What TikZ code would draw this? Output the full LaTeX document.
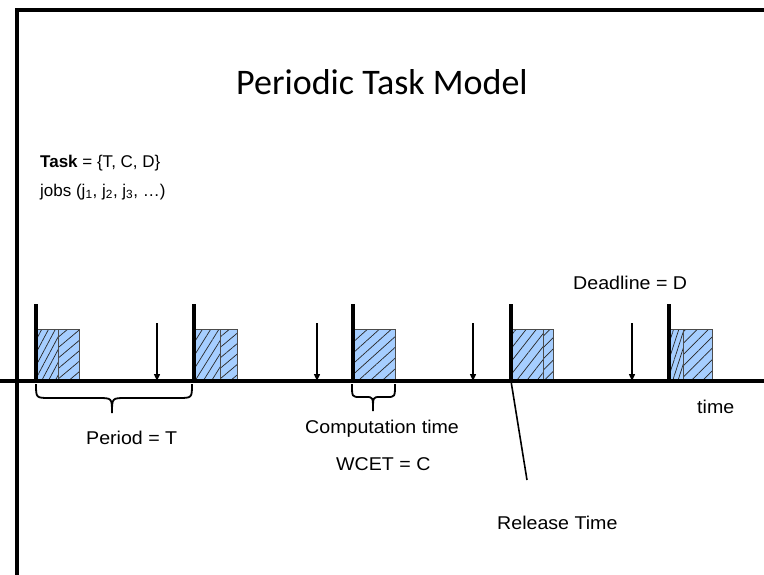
\documentclass[tikz,border=0pt]{standalone}
\usepackage{fontspec}
\setmainfont{Liberation Sans}
\newfontfamily\lblfont[FakeStretch=1.06]{Liberation Sans}
\newfontfamily\titlefont{Carlito}
\usetikzlibrary{patterns.meta,arrows.meta}
\definecolor{jobblue}{HTML}{A6CEFF}
\tikzset{
  txt/.style={font=\fontsize{17}{20}\selectfont, inner sep=0pt, anchor=base west},
  lbl/.style={font=\lblfont\fontsize{18.5}{22}\selectfont, inner sep=0pt, anchor=base west},
  axis/.style={line width=3.2pt},
  release/.style={line width=3.2pt},
  deadl/.style={line width=1.4pt, -{Triangle[length=7pt,width=6pt]}},
  brc/.style={line width=1.8pt},
}
\newcommand{\hatch}[4]{% x1 x2 angle distance
  \path[pattern={Lines[angle=#3,distance=#4,line width=0.7pt]},pattern color=black!85] (#1,329) rectangle (#2,380);
  \draw[draw=black!70,line width=0.7pt] (#1,329) rectangle (#2,380);
}
\begin{document}
\begin{tikzpicture}[x=1pt,y=-1pt]
\useasboundingbox (0,0) rectangle (764,574);
\fill[white] (0,0) rectangle (764,574);
% frame
\draw[line width=3.2pt] (17,600) -- (17,10) -- (800,10);
% title
\node[font=\titlefont\fontsize{36}{40}\selectfont, inner sep=0pt] (title) at (382,82) {Periodic Task Model};
\node[txt] (task) at (40,167) {\textbf{Task} = \{T, C, D\}};
\node[txt] (jobs) at (40,196) {jobs (j\textsubscript{1}, j\textsubscript{2}, j\textsubscript{3}, \ldots)};
\node[lbl] (dl) at (573,289) {Deadline = D};
\node[lbl] (time) at (697,413) {time};
\node[lbl] (period) at (86,444) {Period = T};
\node[lbl] (comp) at (305,433) {Computation time};
\node[lbl] (wcet) at (336,470) {WCET = C};
\node[lbl] (rel) at (497,529) {Release Time};
% jobs
\fill[jobblue] (36,329) rectangle (79,380);
\hatch{36}{58}{62}{6pt}
\hatch{58}{79}{40}{8pt}
\fill[jobblue] (194,329) rectangle (237,380);
\hatch{194}{220}{58}{7pt}
\hatch{220}{237}{40}{8pt}
\fill[jobblue] (353,329) rectangle (395,380);
\hatch{353}{395}{42}{8pt}
\fill[jobblue] (511,329) rectangle (553,380);
\hatch{511}{543}{52}{8pt}
\hatch{543}{553}{45}{8pt}
\fill[jobblue] (669,329) rectangle (712,380);
\hatch{669}{683}{72}{5pt}
\hatch{683}{712}{45}{8pt}
% axis
\coordinate (a0) at (0,381);
\coordinate (a1) at (764,381);
\draw[axis] (a0) -- (a1);
% releases
\foreach \x/\n in {36/r1,194/r2,353/r3,511/r4,669/r5}{
  \coordinate (\n t) at (\x,304);
  \coordinate (\n b) at (\x,381);
  \draw[release] (\n t) -- (\n b);
}
% deadlines
\foreach \x/\n in {157/d1,317/d2,473/d3,632/d4}{
  \coordinate (\n t) at (\x,323);
  \coordinate (\n b) at (\x,381);
  \draw[deadl] (\n t) -- (\n b);
}
% period brace
\draw[brc] (36,384) .. controls (36,398) .. (50,398) -- (98,398) .. controls (112,398) .. (112,413)
  .. controls (112,398) .. (126,398) -- (178,398) .. controls (192,398) .. (192,384);
% computation brace
\draw[brc] (352,384) .. controls (352,397) .. (360,397) -- (366,397) .. controls (373,397) .. (373,411)
  .. controls (373,397) .. (380,397) -- (387,397) .. controls (395,397) .. (395,384);
% release time pointer
\coordinate (rp) at (527,480);
\draw[line width=1.6pt] (r4b) -- (rp);
\end{tikzpicture}
\end{document}
